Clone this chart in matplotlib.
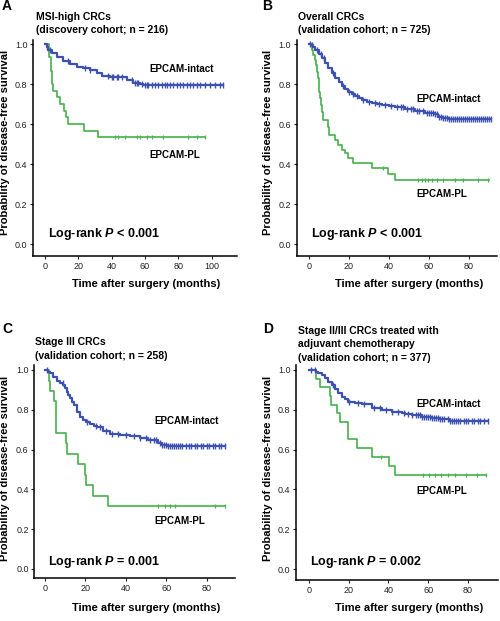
import matplotlib
matplotlib.use('Agg')
import matplotlib.pyplot as plt
import numpy as np

W, H = 500, 621
plt.rcParams['font.family'] = ['Liberation Sans', 'DejaVu Sans']
plt.rcParams['mathtext.fontset'] = 'custom'
plt.rcParams['mathtext.rm'] = 'Liberation Sans:bold'
plt.rcParams['mathtext.it'] = 'Liberation Sans:italic:bold'
plt.rcParams['mathtext.bf'] = 'Liberation Sans:bold'

BLUE = '#3d52b0'
GREEN = '#46b24c'

# ---------------- data ----------------
# Panel A
A_int_t = [0, 1, 2, 4, 7, 11, 15, 19, 23, 27, 31, 34, 39, 45, 49, 53, 57, 59, 107]
A_int_s = [1.0, 0.985, 0.97, 0.953, 0.937, 0.915, 0.90, 0.887, 0.878, 0.87, 0.857, 0.842, 0.837, 0.833, 0.82, 0.807, 0.80, 0.797, 0.797]
A_int_c = [1, 3, 14, 24, 27, 38, 40, 41, 43, 44, 46, 52, 54, 55, 56, 58, 60, 61, 62, 64, 66, 68, 70, 72, 73, 75, 77, 79, 81, 83, 85, 87, 89, 91, 93, 96, 99, 102, 105, 107]
A_pl_t = [0, 2.4, 3.6, 4.2, 4.5, 7.0, 9.0, 11.5, 12.8, 14.0, 23.4, 32.0, 96]
A_pl_s = [1.0, 0.933, 0.867, 0.8, 0.767, 0.733, 0.7, 0.667, 0.633, 0.6, 0.567, 0.533, 0.533]
A_pl_c = [42, 44, 48, 55, 57, 61, 64, 71, 86, 91, 96]

# Panel B
B_int_t = [0, 1, 2, 3.2, 5, 6.5, 8, 9.8, 11.5, 13.2, 15, 16.5, 18, 19.8, 21.5, 23.2, 25, 26.5, 29, 31.5, 34, 36.5, 40, 43, 48, 53, 58, 63, 64.7, 67, 70, 91]
B_int_s = [1.0, 0.995, 0.985, 0.97, 0.95, 0.93, 0.905, 0.88, 0.855, 0.83, 0.81, 0.79, 0.775, 0.76, 0.75, 0.74, 0.73, 0.72, 0.712, 0.707, 0.70, 0.695, 0.688, 0.683, 0.675, 0.665, 0.656, 0.648, 0.637, 0.63, 0.625, 0.625]
B_int_c = [0.5, 1.5, 4, 6, 7.5, 12, 17, 20, 22, 24, 27, 30, 33, 35, 38, 41, 44, 46, 47, 49, 51, 52, 54, 55, 57, 59, 60, 61, 62, 63, 64, 65, 66, 67, 68, 69, 70, 71, 72, 73, 74, 75, 76, 77, 78, 79, 80, 81, 82, 83, 84, 85, 86, 87, 88, 89, 90, 91]
B_pl_t = [0, 1.5, 2.3, 3.0, 3.5, 4.0, 4.5, 5.0, 5.3, 5.8, 6.0, 6.5, 7.0, 9.8, 10.2, 13.2, 14.8, 16.5, 18.2, 19.8, 22.0, 31.5, 39.5, 43.2, 90]
B_pl_s = [1.0, 0.97, 0.945, 0.92, 0.895, 0.862, 0.828, 0.795, 0.762, 0.728, 0.695, 0.658, 0.62, 0.583, 0.545, 0.52, 0.495, 0.47, 0.453, 0.428, 0.405, 0.38, 0.352, 0.32, 0.32]
B_pl_c = [37, 54.8, 56.5, 58.2, 59.8, 61.5, 64, 67.3, 73.2, 77.3, 84.8, 89.8]

# Panel C
C_int_t = [0, 1.5, 2.5, 4, 5.8, 7.5, 9.1, 10.0, 10.7, 11.5, 12.4, 13.3, 14.1, 15.7, 17.4, 19, 20.5, 22.3, 24, 25.6, 28.9, 32.2, 37.1, 42.1, 47, 51.2, 56.1, 57.8, 60.2, 89]
C_int_s = [1.0, 0.99, 0.983, 0.965, 0.946, 0.935, 0.925, 0.908, 0.891, 0.875, 0.858, 0.841, 0.824, 0.791, 0.766, 0.749, 0.738, 0.727, 0.72, 0.712, 0.693, 0.678, 0.673, 0.668, 0.66, 0.648, 0.635, 0.623, 0.617, 0.617]
C_int_c = [1, 9, 21, 25, 27, 30, 33, 36, 40, 44, 47, 50, 52, 54, 55, 57, 58, 59, 60, 61, 62, 63, 64, 65, 66, 67, 68, 70, 71, 72, 74, 75, 77, 78, 80, 81, 83, 84, 86, 87, 89]
C_pl_t = [0, 2.0, 2.5, 4.5, 5.2, 5.4, 5.6, 10.5, 10.8, 16.5, 19.8, 20.5, 23.9, 31.4, 89]
C_pl_s = [1.0, 0.947, 0.895, 0.842, 0.789, 0.737, 0.684, 0.632, 0.579, 0.526, 0.474, 0.421, 0.368, 0.316, 0.316]
C_pl_c = [56, 59.5, 62, 64.5, 84, 89]

# Panel D
D_int_t = [0, 3.5, 4.8, 6.5, 8.2, 9.9, 11.5, 13.2, 14.9, 16.6, 18.2, 19.9, 23.3, 26.6, 31.6, 36.7, 41.7, 46.7, 48.4, 52, 56.8, 61.8, 66, 71, 90]
D_int_s = [1.0, 0.992, 0.983, 0.975, 0.958, 0.941, 0.925, 0.903, 0.883, 0.866, 0.853, 0.841, 0.836, 0.827, 0.807, 0.799, 0.791, 0.786, 0.777, 0.772, 0.762, 0.757, 0.752, 0.744, 0.744]
D_int_c = [1, 3, 12, 20, 25, 28, 33, 36, 39, 42, 45, 48, 50, 52, 54, 55, 56, 57, 58, 59, 60, 61, 62, 63, 64, 65, 66, 67, 68, 70, 71, 72, 73, 74, 75, 76, 78, 79, 80, 82, 83, 85, 86, 88, 90]
D_pl_t = [0, 3.5, 5.7, 10.5, 11.0, 14.1, 15.7, 19.6, 19.9, 24.1, 32.0, 40.5, 43.4, 89]
D_pl_s = [1.0, 0.957, 0.913, 0.870, 0.826, 0.783, 0.739, 0.696, 0.652, 0.609, 0.565, 0.518, 0.471, 0.471]
D_pl_c = [36.3, 57.5, 60.5, 63.5, 66.5, 70, 73.5, 79, 84.5, 89]

panel_letters = ['A', 'B', 'C', 'D']
titles = [
    ['MSI-high CRCs', '(discovery cohort; n = 216)'],
    ['Overall CRCs', '(validation cohort; n = 725)'],
    ['Stage III CRCs', '(validation cohort; n = 258)'],
    ['Stage II/III CRCs treated with', 'adjuvant chemotherapy', '(validation cohort; n = 377)'],
]
pvals = [r'Log-rank $P$ < 0.001', r'Log-rank $P$ < 0.001',
         r'Log-rank $P$ = 0.001', r'Log-rank $P$ = 0.002']
yticks = [0.0, 0.2, 0.4, 0.6, 0.8, 1.0]
xticks_list = [[0, 20, 40, 60, 80, 100], [0, 20, 40, 60, 80], [0, 20, 40, 60, 80], [0, 20, 40, 60, 80]]

# ---------------- layout (pixels) ----------------
fig = plt.figure(figsize=(W / 100, H / 100), dpi=100)

def fx(x):
    return x / W

def fy(y):
    return 1 - y / H

layout = [
    dict(l=33, r=237, t=40, b=256, xlim=(-7.2, 115.2), ylim=(-0.06, 1.02)),
    dict(l=296.7, r=497, t=40, b=256, xlim=(-6.0, 94.2), ylim=(-0.06, 1.02)),
    dict(l=34.3, r=235, t=365, b=578.3, xlim=(-5.3, 94.0), ylim=(-0.047, 1.025)),
    dict(l=296, r=498, t=365, b=580, xlim=(-6.4, 95.1), ylim=(-0.055, 1.025)),
]

curves = [
    (A_int_t, A_int_s, A_int_c, A_pl_t, A_pl_s, A_pl_c),
    (B_int_t, B_int_s, B_int_c, B_pl_t, B_pl_s, B_pl_c),
    (C_int_t, C_int_s, C_int_c, C_pl_t, C_pl_s, C_pl_c),
    (D_int_t, D_int_s, D_int_c, D_pl_t, D_pl_s, D_pl_c),
]


def step_value(t, s, x):
    idx = np.searchsorted(np.asarray(t), x, side='right') - 1
    idx = np.clip(idx, 0, len(s) - 1)
    return np.asarray(s)[idx]


for i, (lay, cv) in enumerate(zip(layout, curves)):
    ax = fig.add_axes([fx(lay['l']), fy(lay['b']), (lay['r'] - lay['l']) / W, (lay['b'] - lay['t']) / H])
    it, is_, ic, pt, ps, pc = cv
    ax.step(it, is_, where='post', color=BLUE, lw=1.6, zorder=3)
    ax.plot(ic, step_value(it, is_, ic), ls='none', marker='|', color=BLUE, ms=4, mew=1.0, zorder=3)
    ax.step(pt, ps, where='post', color=GREEN, lw=1.2, zorder=2)
    ax.plot(pc, step_value(pt, ps, pc), ls='none', marker='|', color=GREEN, ms=3.5, mew=0.9, zorder=2)
    ax.set_xlim(*lay['xlim'])
    ax.set_ylim(*lay['ylim'])
    ax.set_yticks(yticks)
    ax.set_yticklabels([f'{v:.1f}' for v in yticks])
    ax.set_xticks(xticks_list[i])
    for sp in ['top', 'right']:
        ax.spines[sp].set_visible(False)
    for sp in ['left', 'bottom']:
        ax.spines[sp].set_linewidth(1.1)
    ax.tick_params(direction='out', length=2.5, width=0.8, labelsize=6.5, pad=1.5, colors='#222222')
    ax.patch.set_alpha(0)

# ---------------- texts ----------------
def T(x, y, s, size, **kw):
    fig.text(fx(x), fy(y), s, fontsize=size, fontweight='bold', **kw)

T(2, 10, 'A', 10, va='baseline')
T(262, 10, 'B', 10, va='baseline')
T(2, 333, 'C', 10, va='baseline')
T(263, 333, 'D', 10, va='baseline')

title_pos = [(36, [19.7, 32.7]), (298, [19.7, 32.7]), (35, [345.4, 358.7]), (298, [333.7, 346.7, 360.7])]
for (x, ys), lines in zip(title_pos, titles):
    for y, line in zip(ys, lines):
        T(x, y, line, 7.5, va='baseline')

lab_pos = [((149, 72.5), (149, 157.5)), ((416.7, 102.5), (416.7, 196.5)),
           ((154, 423.5), (154, 523.5)), ((416.7, 406.8), (416.7, 493.5))]
for (pi, pp) in lab_pos:
    T(pi[0], pi[1], 'EPCAM-intact', 7, va='baseline')
    T(pp[0], pp[1], 'EPCAM-PL', 7, va='baseline')

p_pos = [(48, 237.5), (311, 237.5), (48, 564.5), (310, 564.5)]
for (x, y), s in zip(p_pos, pvals):
    T(x, y, s, 9, va='baseline')

xl_pos = [(146.5, 287), (409.5, 287), (146.5, 611), (409.5, 611)]
for x, y in xl_pos:
    T(x, y, 'Time after surgery (months)', 8, ha='center', va='baseline')

yl_pos = [(5, 142), (268, 142), (5, 468), (268, 468)]
for x, y in yl_pos:
    T(x, y, 'Probability of disease-free survival', 8, ha='center', va='center', rotation=90)

fig.savefig('out.png', dpi=100)
